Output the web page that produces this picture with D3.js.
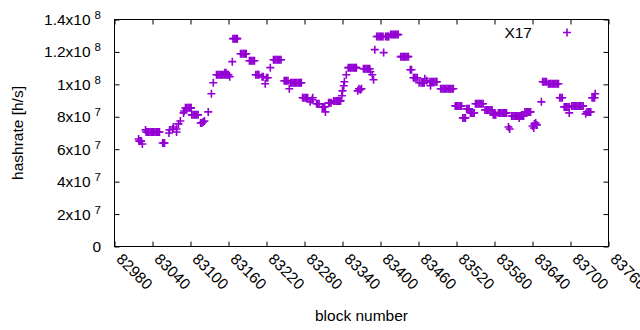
<!DOCTYPE html>
<html><head><meta charset="utf-8">
<script src="https://cdn.jsdelivr.net/npm/d3@7"></script>
<style>
body{margin:0;background:#fff}
text{font-family:"Liberation Sans",Arial,sans-serif;fill:#000}
</style>
</head><body>
<svg id="chart" width="640" height="330"></svg>
<script>
// ---- data (block number, hashrate in MH/s) ----
const seriesName = "X17";
const blocks = [
 83018,83019,83021,83022,83024,83029,
 83030,83032,83034,83036,83038,83040,83042,83044,83046,83048,83050,83051,
 83056,83058,83059,
 83066,83067,83072,83073,83078,83078,83081,83084,83089,83090,
 83092,83094,83096,83098,83100,83101,
 83102,83104,83106,83108,83110,83112,
 83116,83118,83120,83122,83128,83133,83136,
 83141,83143,83145,83147,83149,83151,83153,83155,83157,83159,83160,
 83154,83156,83162,83166,
 83167,83169,83171,83173,83174,
 83179,83181,83183,83185,83187,83188,
 83193,83195,83197,83199,83201,
 83203,83205,83207,83208,
 83213,83215,83218,83220,83222,83226,
 83231,83233,83235,83237,83239,83241,83243,
 83248,83250,83252,83254,83256,
 83258,83260,83262,83264,83266,83268,83270,83272,83274,83275,
 83277,83279,83281,83283,83285,
 83289,83292,83293,
 83299,83301,83303,83308,83310,83312,83313,
 83318,83320,83322,
 83326,83328,83330,83332,83334,83336,83337,
 83339,83340,83342,83343,83346,
 83349,83351,83353,83355,83357,83359,83361,83362,
 83364,83366,83368,83370,
 83373,83375,83377,83379,83381,83383,
 83384,83387,83389,83391,
 83394,83396,83398,83400,83402,83404,83405,
 83408,83410,83412,83413,
 83416,83418,83420,83422,83424,83426,83428,
 83432,83434,83436,83438,83440,83442,83444,
 83447,83449,
 83452,83454,83456,83458,
 83461,83464,83466,83468,83469,83470,83473,
 83478,83480,83482,83484,83486,83488,83489,83479,
 83495,83497,83499,83501,83503,83505,83507,83509,83511,83513,83515,
 83518,83520,83522,83524,83526,83528,
 83530,83532,83534,83536,83538,83540,
 83542,83544,83546,83548,
 83550,83552,83554,83556,83558,83560,83562,
 83565,83567,83569,83571,83573,83575,83576,
 83578,83580,83582,
 83586,83588,83590,83592,83594,83596,83598,83599,
 83602,83604,
 83607,83609,83611,83613,83615,83617,83619,83621,83623,83625,83626,83619,
 83628,83630,83632,83634,83636,83637,
 83640,83642,83643,83645,83647,83654,
 83656,83658,83660,83662,
 83665,83667,83669,83671,83673,83675,83677,83679,83681,
 83683,83685,83687,
 83690,83692,83694,83696,83698,83698,
 83702,83704,83706,83708,83710,83712,83714,83716,83718,83720,
 83724,83726,83728,83730,83732,
 83734,83736,83738,83739
];
const hashrateMH = [
 66.3,65.0,65.0,65.0,63.2,71.9,
 70.6,70.6,70.6,70.6,70.6,70.6,70.6,70.6,70.6,70.6,70.6,70.6,
 63.8,63.8,63.8,
 70.0,71.9,72.5,73.7,72.5,70.6,75.6,77.4,82.4,83.6,
 85.5,85.5,85.5,85.5,85.5,85.5,
 81.2,81.2,81.2,81.2,81.2,81.2,
 76.2,76.2,76.8,77.4,83.0,94.2,101.0,
 105.9,105.9,105.9,105.9,105.9,105.9,105.9,105.9,105.9,105.9,105.9,
 107.2,107.2,104.7,114.0,
 128.2,128.2,128.2,128.2,128.2,
 118.9,118.9,118.9,118.9,118.9,118.9,
 114.6,114.6,114.6,114.6,114.6,
 105.9,105.9,105.9,105.9,
 104.7,104.7,100.4,104.1,104.1,110.3,
 115.2,115.2,115.2,115.2,115.2,115.2,115.2,
 102.2,102.2,102.2,102.2,97.3,
 101.0,101.0,101.0,101.0,101.0,101.0,101.0,101.0,101.0,101.0,
 91.7,91.7,91.7,91.7,91.7,
 89.2,90.5,91.7,
 88.0,88.0,88.0,86.1,86.1,86.1,83.0,
 88.6,88.6,88.6,
 89.8,89.8,89.8,89.8,89.8,89.8,89.8,
 93.0,96.0,99.1,101.6,105.9,
 110.3,110.3,110.3,110.3,110.3,110.3,110.3,110.3,
 96.0,97.3,96.7,97.3,
 109.6,109.6,109.6,109.6,109.6,109.6,
 107.8,105.9,102.8,121.4,
 129.5,129.5,129.5,129.5,129.5,129.5,119.6,
 129.5,129.5,129.5,129.5,
 130.7,130.7,130.7,130.7,130.7,130.7,130.7,
 117.1,117.1,117.1,117.1,117.1,117.1,117.1,
 109.0,109.0,
 104.1,104.1,104.1,104.1,
 101.0,101.0,101.0,101.0,101.0,103.5,102.2,
 101.6,101.6,101.6,101.6,101.6,101.6,101.6,99.1,
 97.3,97.3,97.3,97.3,97.3,97.3,97.3,97.3,97.3,97.3,97.3,
 86.7,86.7,86.7,86.7,86.7,86.7,
 79.3,79.3,79.3,84.9,84.9,84.9,
 82.4,82.4,82.4,82.4,
 88.0,88.0,88.0,88.0,88.0,88.0,88.0,
 84.2,84.2,84.2,84.2,84.2,84.2,84.2,
 81.2,81.2,81.2,
 82.4,82.4,82.4,82.4,82.4,82.4,82.4,82.4,
 73.7,72.5,
 80.5,80.5,80.5,80.5,80.5,80.5,80.5,80.5,80.5,80.5,80.5,79.3,
 83.0,83.0,83.0,83.0,83.0,83.0,
 74.3,73.1,75.6,76.2,75.0,89.2,
 101.6,101.6,101.6,101.6,
 100.4,100.4,100.4,100.4,100.4,100.4,100.4,100.4,100.4,
 91.7,91.7,91.7,
 86.1,86.1,86.1,86.1,86.1,82.4,
 86.7,86.7,86.7,86.7,86.7,86.7,86.7,86.7,86.7,86.7,
 81.8,83.0,83.0,83.0,83.0,
 91.7,91.7,91.7,94.2
];
const xTickValues = [82980,83040,83100,83160,83220,83280,83340,83400,83460,83520,83580,83640,83700,83760];
const yTickValues = [0,2e7,4e7,6e7,8e7,1e8,1.2e8,1.4e8];
const yTickMantissa = ["0","2","4","6","8","1","1.2","1.4"];
const yTickExponent = ["","7","7","7","7","8","8","8"];
const xLabel = "block number";
const yLabel = "hashrate [h/s]";

// ---- layout ----
const svg = d3.select("#chart");
const L = 114.5, R = 608.5, T = 19.5, B = 246.5;
const color = "#9400d3";
const x = d3.scaleLinear().domain([82980, 83760]).range([L, R]);
const y = d3.scaleLinear().domain([0, 1.4e8]).range([B, T]);
const tickLen = 5;
const plus = "M-4,0H4M0,-4V4";

const data = blocks.map((b, i) => ({b, v: hashrateMH[i] * 1e6}));

// points
svg.append("g")
  .selectAll("path").data(data).join("path")
  .attr("d", plus)
  .attr("transform", d => `translate(${x(d.b)},${y(d.v)})`)
  .attr("fill", "none").attr("stroke", color).attr("stroke-width", 1.6);

// frame
svg.append("rect").attr("x", L).attr("y", T).attr("width", R - L).attr("height", B - T)
  .attr("fill", "none").attr("stroke", "#000").attr("stroke-width", 1);

// ticks via axes (inward, mirrored)
const ax = svg.append("g");
ax.append("g").attr("transform", `translate(0,${B})`)
  .call(d3.axisTop(x).tickValues(xTickValues).tickSize(tickLen).tickFormat(""));
ax.append("g").attr("transform", `translate(0,${T})`)
  .call(d3.axisBottom(x).tickValues(xTickValues).tickSize(tickLen).tickFormat(""));
ax.append("g").attr("transform", `translate(${L},0)`)
  .call(d3.axisRight(y).tickValues(yTickValues).tickSize(tickLen).tickFormat(""));
ax.append("g").attr("transform", `translate(${R},0)`)
  .call(d3.axisLeft(y).tickValues(yTickValues).tickSize(tickLen).tickFormat(""));
ax.selectAll(".domain").remove();
ax.selectAll(".tick line").attr("stroke", "#000").attr("stroke-width", 1);

// y tick labels
const yl = svg.append("g").selectAll("text").data(yTickValues).join("text")
  .attr("x", 101).attr("y", d => y(d) + 5.5)
  .attr("text-anchor", "end").style("font-size", "15.5px");
yl.append("tspan").text((d, i) => yTickMantissa[i] + (yTickExponent[i] ? "x10" : ""));
yl.append("tspan").text((d, i) => yTickExponent[i])
  .attr("dx", (d, i) => yTickExponent[i] ? 4 : 0)
  .attr("dy", (d, i) => yTickExponent[i] ? -6 : 0)
  .style("font-size", "11.5px");

// x tick labels (rotated)
svg.append("g").selectAll("text").data(xTickValues).join("text")
  .attr("transform", d => `translate(${x(d) + 1},${260}) rotate(45)`)
  .attr("text-anchor", "start").style("font-size", "15.5px")
  .text(d => d);

// axis titles
svg.append("text").attr("x", (L + R) / 2).attr("y", 321).attr("text-anchor", "middle")
  .style("font-size", "15.5px").text(xLabel);
svg.append("text").attr("transform", `translate(23,${(T + B) / 2}) rotate(-90)`)
  .attr("text-anchor", "middle").style("font-size", "15.5px").text(yLabel);

// legend
svg.append("text").attr("x", 532).attr("y", 37.5).attr("text-anchor", "end")
  .style("font-size", "15.5px").text(seriesName);
svg.append("path").attr("d", plus).attr("transform", "translate(567,32.5)")
  .attr("fill", "none").attr("stroke", color).attr("stroke-width", 1.6);
</script>
</body></html>
